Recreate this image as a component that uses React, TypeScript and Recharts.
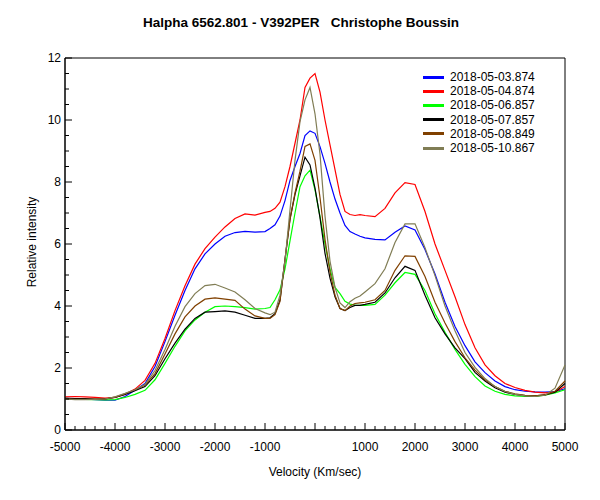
import React from 'react';
import { LineChart, Line, XAxis, YAxis, ReferenceArea, Legend } from 'recharts';

const FONT = '"Liberation Sans", Arial, sans-serif';

// velocity grid (km/s)
const velocity = [
  -5000, -4800, -4600, -4400, -4200, -4000, -3800, -3600, -3400, -3200, -3000, -2800, -2600, -2400, -2200, -2000, -1800, -1600, -1400, -1200, -1000,
  -900, -800, -700, -600, -500, -400, -300, -200, -100, 0, 100, 200, 300, 400, 500, 600, 700, 800, 900,
  1000, 1200, 1400, 1600, 1800, 2000, 2200, 2400, 2600, 2800, 3000, 3200, 3400, 3600, 3800, 4000, 4200, 4400, 4600, 4800, 5000,
];

const s0503 = [
  1.02, 1.01, 1.0, 0.98, 0.96, 0.96, 1.08, 1.28, 1.5, 2.05, 2.85, 3.7, 4.5, 5.2, 5.68, 6.0, 6.25, 6.37, 6.41, 6.38, 6.4,
  6.5, 6.62, 6.9, 7.4, 8.05, 8.5, 8.92, 9.5, 9.65, 9.57, 9.14, 8.6, 8.0, 7.45, 7.0, 6.6, 6.4, 6.32, 6.25,
  6.2, 6.15, 6.13, 6.38, 6.58, 6.45, 5.82, 5.03, 4.12, 3.34, 2.72, 2.2, 1.85, 1.58, 1.4, 1.3, 1.25, 1.23, 1.22, 1.24, 1.33,
];
const s0504 = [
  1.07, 1.08, 1.07, 1.05, 1.03, 1.05, 1.15, 1.32, 1.6, 2.15, 2.95, 3.85, 4.65, 5.35, 5.85, 6.22, 6.55, 6.82, 6.97, 6.93, 7.02,
  7.05, 7.15, 7.35, 7.85, 8.5, 9.25, 10.0, 11.05, 11.35, 11.5, 10.9, 10.0, 9.2, 8.4, 7.6, 7.05, 6.95, 6.92, 6.95,
  6.92, 6.88, 7.15, 7.65, 7.98, 7.92, 7.05, 6.0, 5.15, 4.3, 3.4, 2.65, 2.1, 1.75, 1.5, 1.37, 1.28, 1.22, 1.2, 1.22, 1.4,
];
const s0506 = [
  1.02, 1.0, 0.99, 0.98, 0.97, 0.98, 1.05, 1.15, 1.28, 1.62, 2.15, 2.7, 3.2, 3.55, 3.8, 3.98, 4.0, 3.98, 3.95, 3.9, 3.92,
  3.95, 4.2, 4.52, 5.2, 6.1, 7.0, 7.85, 8.2, 8.38, 7.75, 6.88, 6.0, 5.2, 4.6, 4.4, 4.15, 4.06, 4.03, 4.02,
  4.02, 4.05, 4.35, 4.75, 5.08, 5.02, 4.5, 3.75, 3.15, 2.6, 2.12, 1.72, 1.42, 1.25, 1.15, 1.1, 1.08, 1.08, 1.12, 1.2, 1.3,
];
const s0507 = [
  1.02, 1.01, 1.01, 1.0, 1.0, 1.05, 1.15, 1.27, 1.4, 1.75, 2.3, 2.8, 3.25, 3.6, 3.8, 3.82, 3.84, 3.8, 3.7, 3.6, 3.6,
  3.62, 3.75, 4.19, 5.5, 6.8, 7.6, 8.2, 8.8, 8.55, 7.8, 6.85, 5.7, 4.9, 4.3, 3.92, 3.85, 3.95, 4.02, 4.02,
  4.05, 4.12, 4.42, 4.91, 5.28, 5.15, 4.35, 3.62, 3.1, 2.65, 2.3, 1.86, 1.58, 1.36, 1.22, 1.15, 1.11, 1.1, 1.13, 1.22, 1.5,
];
const s0508 = [
  1.0, 0.99, 0.99, 1.0, 1.0, 1.06, 1.17, 1.3, 1.45, 1.82, 2.45, 3.1, 3.65, 4.0, 4.22, 4.26, 4.22, 4.18, 3.9, 3.68, 3.6,
  3.6, 3.72, 4.15, 5.5, 6.8, 7.65, 8.35, 9.15, 9.23, 8.7, 7.5, 6.15, 5.1, 4.35, 3.92, 3.85, 4.0, 4.08, 4.1,
  4.12, 4.2, 4.5, 5.15, 5.62, 5.6, 4.95, 4.12, 3.45, 2.85, 2.33, 1.93, 1.62, 1.4, 1.25, 1.17, 1.12, 1.1, 1.13, 1.25, 1.58,
];
const s0510 = [
  1.0, 0.98, 0.98, 0.99, 1.0, 1.07, 1.18, 1.3, 1.47, 1.92, 2.6, 3.35, 3.98, 4.4, 4.66, 4.7, 4.58, 4.45, 4.2, 3.92, 3.78,
  3.72, 3.8, 4.35, 5.45, 7.1, 8.7, 9.95, 10.65, 11.05, 10.2, 8.9, 6.9, 5.45, 4.6, 4.1, 3.95, 4.14, 4.25, 4.32,
  4.45, 4.72, 5.2, 6.05, 6.65, 6.65, 5.88, 4.98, 4.0, 3.2, 2.5, 2.02, 1.66, 1.4, 1.24, 1.15, 1.1, 1.08, 1.12, 1.35, 2.1,
];

const series = [
  { key: 's0503', name: '2018-05-03.874', color: '#0000ff', values: s0503 },
  { key: 's0504', name: '2018-05-04.874', color: '#ff0000', values: s0504 },
  { key: 's0506', name: '2018-05-06.857', color: '#00ff00', values: s0506 },
  { key: 's0507', name: '2018-05-07.857', color: '#000000', values: s0507 },
  { key: 's0508', name: '2018-05-08.849', color: '#804000', values: s0508 },
  { key: 's0510', name: '2018-05-10.867', color: '#807d55', values: s0510 },
];

const xTicks: number[] = [];
for (let v = -5000; v <= 5000; v += 200) xTicks.push(v);
const yTicks: number[] = [];
for (let v = 0; v <= 12; v += 0.5) yTicks.push(v);

const data = velocity.map((v, i) => {
  const row: Record<string, number> = { v };
  series.forEach(s => { row[s.key] = s.values[i]; });
  return row;
});

// ticks are drawn inside the frame, minor ones shorter
const XTick = (props: any) => {
  const { x, y, payload } = props;
  const v = payload.value;
  const major = v % 1000 === 0;
  return (
    <g>
      <line x1={x} x2={x} y1={y} y2={y - (major ? 7 : 4)} stroke="#000" />
      {major && v !== 0 && (
        <text x={x} y={y + 21} textAnchor="middle" fontSize={12} fontFamily={FONT} fill="#000">{v}</text>
      )}
    </g>
  );
};

const YTick = (props: any) => {
  const { x, y, payload } = props;
  const v = payload.value;
  const major = v % 2 === 0;
  return (
    <g>
      <line x1={x} x2={x + (major ? 7 : 4)} y1={y} y2={y} stroke="#000" />
      {major && (
        <text x={x - 4} y={y + 4} textAnchor="end" fontSize={12} fontFamily={FONT} fill="#000">{v}</text>
      )}
    </g>
  );
};

const LegendBox = () => (
  <div style={{ fontFamily: FONT, fontSize: 12 }}>
    {series.map(s => (
      <div key={s.key} style={{ display: 'flex', alignItems: 'center', height: 14.2 }}>
        <span style={{ display: 'inline-block', width: 21, height: 3, background: s.color, marginRight: 6 }} />
        <span>{s.name}</span>
      </div>
    ))}
  </div>
);

export default function App() {
  return (
    <div style={{ position: 'absolute', left: 0, top: 0, width: 600, height: 500, background: '#fff' }}>
      <div style={{ position: 'absolute', left: 0, top: 15, width: 602, textAlign: 'center', fontFamily: FONT, fontSize: 13.5, fontWeight: 'bold' }}>
        Halpha 6562.801 - V392PER&nbsp;&nbsp; Christophe Boussin
      </div>
      <LineChart width={600} height={500} data={data} margin={{ top: 58, right: 35, bottom: 69, left: 64 }}>
        <XAxis dataKey="v" type="number" domain={[-5000, 5000]} ticks={xTicks} interval={0} height={1}
          tickSize={0} tickMargin={0} tick={<XTick />} axisLine={{ stroke: '#000' }} tickLine={false} />
        <YAxis type="number" domain={[0, 12]} ticks={yTicks} interval={0} width={1}
          tickSize={0} tickMargin={0} tick={<YTick />} axisLine={{ stroke: '#000' }} tickLine={false} />
        <ReferenceArea x1={-5000} x2={5000} y1={0} y2={12} fill="none" stroke="#000" strokeOpacity={1} fillOpacity={0} ifOverflow="visible" />
        {series.map(s => (
          <Line key={s.key} type="linear" dataKey={s.key} name={s.name} stroke={s.color} strokeWidth={1.2}
            dot={false} activeDot={false} isAnimationActive={false} />
        ))}
        <Legend layout="horizontal" verticalAlign="middle" align="center" content={<LegendBox />}
          wrapperStyle={{ position: 'absolute', left: 423, top: 70, width: 150, height: 90 }} />
      </LineChart>
      <div style={{ position: 'absolute', left: 215, top: 465, width: 200, textAlign: 'center', fontFamily: FONT, fontSize: 12 }}>
        Velocity (Km/sec)
      </div>
      <div style={{ position: 'absolute', left: 32, top: 243, width: 0, height: 0 }}>
        <div style={{ position: 'absolute', left: -60, top: -8, width: 120, textAlign: 'center', transform: 'rotate(-90deg)', fontFamily: FONT, fontSize: 12, whiteSpace: 'nowrap' }}>
          Relative intensity
        </div>
      </div>
    </div>
  );
}
